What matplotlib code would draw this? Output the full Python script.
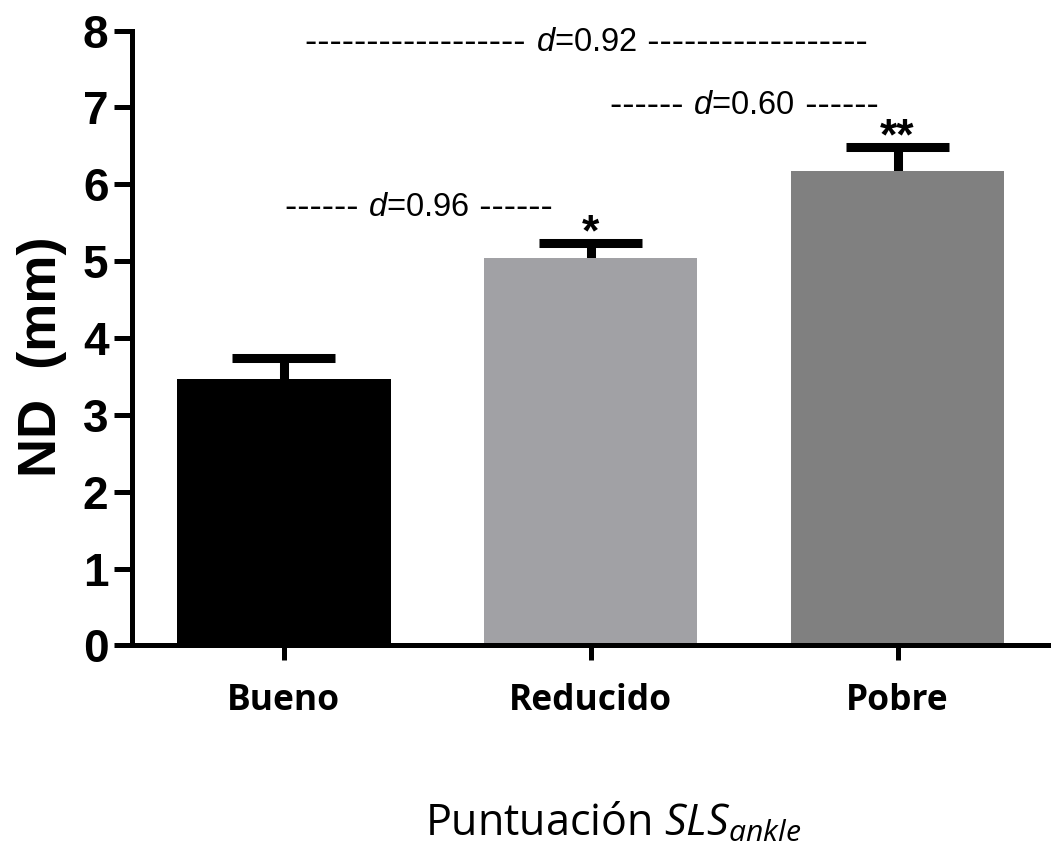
import matplotlib
matplotlib.use("Agg")
import matplotlib.pyplot as plt

plt.rcParams["mathtext.fontset"] = "custom"
plt.rcParams["mathtext.it"] = "Liberation Sans:italic"
plt.rcParams["mathtext.rm"] = "Liberation Sans"
plt.rcParams["mathtext.sf"] = "Open Sans:italic"

# data
groups = ["Bueno", "Reducido", "Pobre"]
means = [3.47, 5.04, 6.17]
sem = [0.27, 0.20, 0.31]
colors = ["#000000", "#a1a1a5", "#808080"]
stars = ["", "*", "**"]

# effect size labels: x centre, y, value, dashes each side
d_x = [0.44, 1.5, 0.985]
d_y = [5.7, 7.02, 7.85]
d_vals = ["0.96", "0.60", "0.92"]
d_dash = [6, 6, 18]

fig = plt.figure(figsize=(10.51, 8.44), dpi=100)
ax = fig.add_axes([0.1256, 0.2352, 0.8744, 0.7285])

x = list(range(len(groups)))
tops = [m + s for m, s in zip(means, sem)]
ax.bar(x, means, width=0.695, color=colors, zorder=2)
# upper error bars only
ax.vlines(x, means, tops, color="black", lw=6.5, zorder=1)
ax.hlines(tops, [i - 0.168 for i in x], [i + 0.168 for i in x],
          color="black", lw=6.5, capstyle="butt", zorder=1)

for i, s in enumerate(stars):
    if s:
        ax.text(i, tops[i] - 0.03, s, ha="center", va="baseline",
                fontsize=32, fontweight="bold", family="Liberation Sans")

for xc, yc, dv, n in zip(d_x, d_y, d_vals, d_dash):
    mid = ax.text(xc, yc, "$d$=" + dv, ha="center", va="center",
                  fontsize=23.5, family="Liberation Sans")
    dash = "-" * n
    ax.annotate(dash + " ", xy=(0, 0.5), xycoords=mid, ha="right", va="center",
                fontsize=26.5, family="Liberation Sans")
    ax.annotate(" " + dash, xy=(1, 0.5), xycoords=mid, ha="left", va="center",
                fontsize=26.5, family="Liberation Sans")

ax.set_xlim(-0.495, 2.5)
ax.set_ylim(0, 8)
ax.set_yticks(range(0, 9))
ax.set_xticks(x)
ax.set_xticklabels(groups, fontsize=25.5, fontweight="bold", family="Open Sans")
for lab in ax.get_yticklabels():
    lab.set_fontsize(33)
    lab.set_fontweight("bold")
    lab.set_family("Liberation Sans")

ax.spines["top"].set_visible(False)
ax.spines["right"].set_visible(False)
for sp in ["left", "bottom"]:
    ax.spines[sp].set_linewidth(3.6)
ax.tick_params(axis="both", width=3.6, direction="out")
ax.tick_params(axis="x", length=11, pad=16)
ax.tick_params(axis="y", length=13, pad=4)

ax.set_ylabel("ND  (mm)", fontsize=39, fontweight="bold", family="Liberation Sans")
ax.yaxis.set_label_coords(-0.071, 0.47)
ax.set_xlabel(r"Puntuación $\mathsf{SLS}_{\mathsf{ankle}}$", fontsize=31,
              family="Open Sans", va="top")
ax.xaxis.set_label_coords(0.523, -0.253)

fig.savefig("out.png", dpi=100, facecolor="white")
